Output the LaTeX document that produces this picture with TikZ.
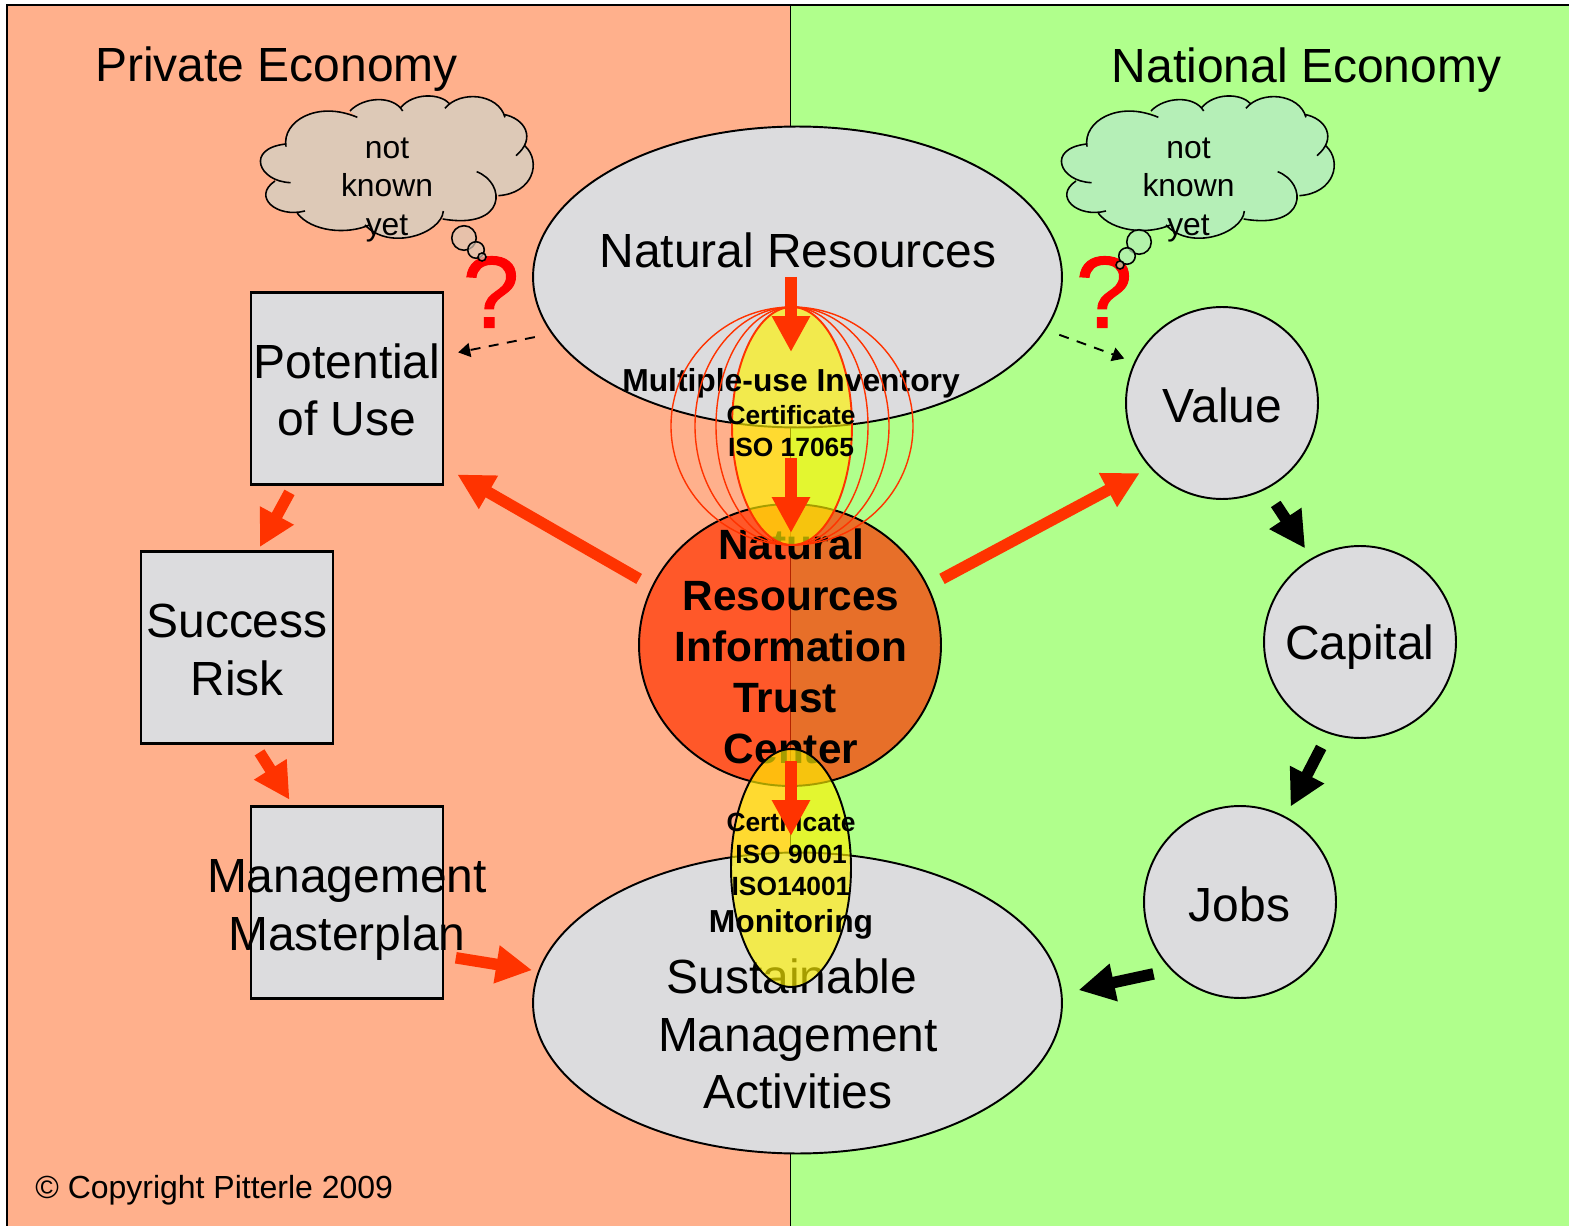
\documentclass[tikz,border=0pt]{standalone}
\usepackage{fontspec}
\setmainfont{Liberation Sans}
\newfontfamily\askfont[FakeBold=1]{Liberation Sans}
\usetikzlibrary{arrows.meta}
\usetikzlibrary{shapes.geometric}

\definecolor{privatebg}{HTML}{FFB08C}
\definecolor{nationalbg}{HTML}{B0FF8C}
\definecolor{shapegray}{HTML}{DCDCDE}
\definecolor{flowred}{HTML}{FF3300}
\definecolor{cloudprivate}{HTML}{DDC9B7}
\definecolor{cloudnational}{HTML}{B5EFB7}

\tikzset{
	box/.style={rectangle,draw,fill=shapegray,line width=1.2pt,minimum size=3.84cm,inner sep=0pt,outer sep=0pt},
	disc/.style={circle,draw,fill=shapegray,line width=1.1pt,minimum size=3.84cm,inner sep=0pt,outer sep=0pt},
	resource/.style={ellipse,draw,fill=shapegray,line width=1.1pt,minimum width=10.58cm,minimum height=6.02cm,inner sep=0pt,outer sep=0pt},
	lens/.style={ellipse,draw,fill=yellow,fill opacity=0.65,line width=1.1pt,minimum width=2.4cm,minimum height=4.76cm,inner sep=0pt},
	ring/.style={ellipse,draw=flowred,line width=0.8pt,minimum height=4.76cm,inner sep=0pt},
	bigtext/.style={align=center,inner sep=0pt,font=\fontsize{27.3}{32.7}\selectfont},
	trusttext/.style={align=center,inner sep=0pt,font=\bfseries\fontsize{24.1}{29}\selectfont},
	certtext/.style={align=center,inner sep=0pt,font=\bfseries\fontsize{15}{18.2}\selectfont},
	boldtext/.style={inner sep=0pt,font=\bfseries\fontsize{18.1}{21}\selectfont},
	cloudtext/.style={align=center,inner sep=0pt,font=\fontsize{18.1}{21.9}\selectfont},
	asktext/.style={inner sep=0pt,text=red,font=\askfont\fontsize{58}{58}\selectfont},
	bubble/.style={circle,draw,line width=0.9pt,fill opacity=0.7,inner sep=0pt},
	blockarrow/.style={line width=0.23cm,-{Triangle[length=0.72cm,width=0.72cm]}},
	dasharrow/.style={line width=1.1pt,dash pattern=on 0.2cm off 0.17cm,-{Triangle[length=0.24cm,width=0.28cm]}}
}

\newcommand{\cloudoutline}[1]{(108,185) .. controls (95,110) and (200,45) .. (322,97) #1
	(300,78) .. controls (340,35) and (430,30) .. (458,78) #1
	(452,68) .. controls (490,22) and (570,25) .. (597,55) #1
	(585,70) .. controls (630,15) and (745,25) .. (765,97) #1
	(760,88) .. controls (825,100) and (860,160) .. (798,212) #1
	(825,183) .. controls (875,230) and (850,325) .. (745,332) #1
	(680,260) .. controls (770,295) and (770,435) .. (578,402) #1
	(580,378) .. controls (575,445) and (420,500) .. (345,420) #1
	(358,420) .. controls (290,450) and (185,440) .. (142,385) #1
	(165,378) .. controls (80,400) and (5,335) .. (75,288) #1
	(122,293) .. controls (25,290) and (-15,190) .. (108,177)}

\newcommand{\thoughtcloud}[2]{
	\begin{scope}[shift={(#1,85)},x=0.00667cm,y=-0.00667cm]
		\fill[#2] \cloudoutline{--} -- cycle;
		\draw[line width=0.9pt] \cloudoutline{};
	\end{scope}
}

\begin{document}
\begin{tikzpicture}[x=0.02cm,y=-0.02cm]
	\useasboundingbox (0,0) rectangle (1569,1226);

	\draw[line width=1.1pt,fill=privatebg] (7,5) rectangle (790.5,1240);
	\draw[line width=1.1pt,fill=nationalbg] (790.5,5) rectangle (1585,1240);

	\node[resource] (naturalres) at (797.5,277) {};
	\node[resource] (sustainable) at (797.5,1003) {};
	\node[box] (potential) at (347,388.5) {};
	\node[box] (risk) at (237,647.5) {};
	\node[box] (masterplan) at (347,902.5) {};
	\node[disc] (value) at (1222,403) {};
	\node[disc] (capital) at (1360,642) {};
	\node[disc] (jobs) at (1240,902) {};

	\node[asktext] (askprivate) at (491,292) {?};
	\node[asktext] (asknational) at (1104,292) {?};

	\thoughtcloud{250}{cloudprivate}
	\thoughtcloud{1051}{cloudnational}
	\node[bubble,fill=cloudprivate,minimum size=0.49cm] (privatebubblea) at (464,238) {};
	\node[bubble,fill=cloudprivate,minimum size=0.33cm] (privatebubbleb) at (476,250) {};
	\node[bubble,fill=cloudprivate,minimum size=0.16cm] (privatebubblec) at (482,257) {};
	\node[bubble,fill=cloudnational,minimum size=0.49cm] (nationalbubblea) at (1139,242) {};
	\node[bubble,fill=cloudnational,minimum size=0.33cm] (nationalbubbleb) at (1127,256) {};
	\node[bubble,fill=cloudnational,minimum size=0.16cm] (nationalbubblec) at (1120,265) {};

	\node[bigtext] (privatetitle) at (276.5,69) {Private Economy};
	\node[bigtext] (nationaltitle) at (1306.5,70) {National Economy};
	\node[cloudtext] (privatethought) at (387,190) {not\\known\\yet};
	\node[cloudtext] (nationalthought) at (1188.5,190) {not\\known\\yet};
	\node[bigtext] (naturalrestext) at (798,250) {Natural Resources};
	\node[bigtext] (potentialtext) at (347,390) {Potential\\of Use};
	\node[bigtext] (risktext) at (237,650) {Success\\Risk};
	\node[bigtext] (masterplantext) at (347,910) {Management\\Masterplan};
	\node[bigtext] (sustainabletext) at (798,1034) {Sustainable\rule{0.24cm}{0pt}\\Management\\Activities};
	\node[bigtext] (valuetext) at (1222.5,405) {Value};
	\node[bigtext] (capitaltext) at (1360,647) {Capital};
	\node[bigtext] (jobstext) at (1239.5,904) {Jobs};

	\node[ellipse,draw,line width=1.1pt,fill=flowred,fill opacity=0.7,minimum width=6.04cm,minimum height=5.64cm,inner sep=0pt,outer sep=0pt] (trust) at (790,645) {};
	\node[trusttext] (trusttext) at (791,646) {Natural\\Resources\\Information\\Trust\rule{0.24cm}{0pt}\\Center};

	\node[lens,draw=flowred] (inventory) at (792,426) {};
	\node[lens] (monitoring) at (791,868) {};

	\node[boldtext] (inventorytext) at (791,383) {Multiple-use Inventory};
	\node[certtext] (inventorycert) at (791,431) {Certificate\\ISO 17065};
	\node[certtext] (monitoringcert) at (791,854) {Certificate\\ISO 9001\\ISO14001};
	\node[boldtext] (monitoringtext) at (791,924) {Monitoring};

	\foreach \w in {152,194,242}
		\node[ring,minimum width=\w*0.02cm] (ring\w) at (792,426) {};

	\begin{scope}[every path/.style={draw=flowred,blockarrow}]
		\path[shorten <=0.31cm,shorten >=0.33cm] (trust.157) -- (potential.-39);
		\path[shorten <=0.33cm,shorten >=0.25cm] (trust.23) -- (value.-138);
		\path[shorten <=0.18cm,shorten >=0.1cm] (potential.-119) -- (risk.78);
		\path[shorten <=0.21cm,shorten >=0.16cm] (risk.-80) -- (masterplan.119);
		\path[shorten <=0.26cm,shorten >=0.14cm] (masterplan.-29) -- (sustainable.173.5);
	\end{scope}

	\coordinate (inventorytop) at (791,277);
	\coordinate (inventorytip) at (791,352);
	\coordinate (trusttop) at (791,458);
	\coordinate (trusttip) at (791,533);
	\coordinate (monitoringtop) at (791,761);
	\coordinate (monitoringtip) at (791,836);
	\begin{scope}[every path/.style={draw=flowred,blockarrow}]
		\path (inventorytop) -- (inventorytip);
		\path (trusttop) -- (trusttip);
		\path (monitoringtop) -- (monitoringtip);
	\end{scope}

	\begin{scope}[every path/.style={draw=black,blockarrow}]
		\path[shorten <=0.37cm,shorten >=0.25cm] (value.-63.5) -- (capital.120.5);
		\path[shorten <=0.33cm,shorten >=0.24cm] (capital.-109.8) -- (jobs.62.4);
		\path[shorten <=0.38cm,shorten >=0.35cm] (jobs.-135.4) -- (sustainable.2.6);
	\end{scope}

	\draw[dasharrow,shorten <=0.36cm,shorten >=0.31cm] (naturalres.-167) -- (potential.19);
	\draw[dasharrow,shorten <=0.3cm,shorten >=0.23cm] (naturalres.-12.7) -- (value.155.4);

	\node[anchor=west,inner sep=0pt,font=\fontsize{18.2}{22}\selectfont] (copyright) at (35,1190) {© Copyright Pitterle 2009};
\end{tikzpicture}
\end{document}
